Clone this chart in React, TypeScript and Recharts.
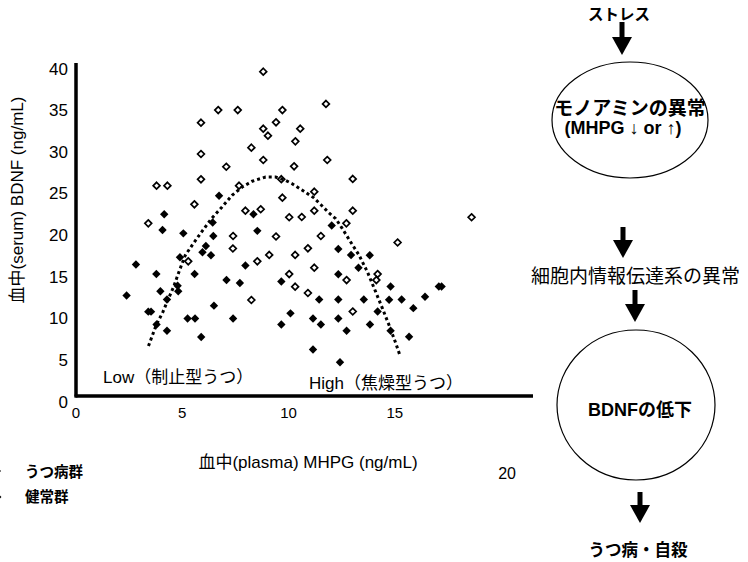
import { ScatterChart, Scatter, XAxis, YAxis } from 'recharts';

const FONT = '"Liberation Sans", Arial, "Noto Sans CJK JP", sans-serif';

const xTicks = [0, 5, 10, 15, 20];
const yTicks = [0, 5, 10, 15, 20, 25, 30, 35, 40];

// うつ病群 (filled)
const depressedX = [6.73, 4.15, 8.35, 4.07, 5.05, 6.43, 6.46, 8.53, 6.11, 5.95, 6.35, 4.89, 2.82, 7.97, 3.78, 5.58, 7.08, 7.71, 9.66, 4.78, 3.97, 4.81, 2.38, 4.28, 6.49, 3.4, 3.53, 5.25, 5.6, 7.39, 3.79, 9.66, 4.28, 5.89, 12.03, 12.34, 12.94, 13.82, 13.29, 12.34, 14.8, 17.07, 17.2, 16.42, 11.44, 12.34, 13.54, 14.73, 15.32, 15.87, 10.09, 14.19, 11.15, 11.52, 12.34, 13.83, 12.73, 14.8, 15.67, 11.15, 12.42];
const depressedY = [24.06, 21.83, 21.84, 19.94, 19.54, 20.84, 19.22, 19.84, 18.02, 17.27, 16.9, 16.66, 15.8, 15.68, 14.65, 14.65, 13.93, 13.57, 13.75, 13.25, 12.58, 12.58, 12.07, 11.59, 10.85, 10.13, 10.13, 9.31, 9.31, 9.31, 8.59, 8.59, 7.83, 7.09, 20.48, 17.66, 16.94, 16.91, 15.41, 14.62, 13.15, 13.15, 13.15, 11.92, 11.59, 11.59, 11.59, 11.56, 11.59, 10.55, 9.93, 10.15, 9.31, 8.59, 9.31, 8.59, 7.84, 7.84, 7.11, 5.59, 4.06];

// 健常群 (open)
const healthyX = [8.81, 6.69, 7.61, 9.71, 5.88, 9.41, 8.81, 9.03, 8.25, 5.88, 8.81, 7.07, 5.88, 9.66, 3.79, 4.3, 7.67, 9.71, 5.57, 7.97, 8.69, 11.76, 10.55, 10.32, 11.82, 10.26, 13.02, 11.21, 11.21, 13.02, 10.03, 10.62, 18.61, 3.4, 7.39, 9.41, 11.52, 12.72, 15.13, 10.91, 7.38, 5.28, 8.53, 9.09, 10.31, 11.21, 10.03, 14.19, 14.13, 12.73, 8.25, 10.31, 10.91, 13.02];
const healthyY = [38.96, 34.35, 34.35, 34.35, 32.83, 32.88, 32.11, 31.27, 29.83, 29.07, 28.35, 27.54, 26.03, 26.04, 25.26, 25.26, 25.26, 23.82, 23.03, 22.26, 22.43, 35.08, 32.11, 30.59, 28.35, 27.59, 26.07, 24.54, 22.26, 22.26, 21.47, 21.5, 21.47, 20.74, 19.22, 19.16, 19.22, 20.74, 18.44, 17.74, 17.72, 16.18, 16.18, 16.94, 16.94, 15.41, 14.65, 14.65, 13.93, 13.93, 11.53, 13.13, 12.37, 10.15];

// dotted fit curve
const curveX = [3.41, 3.77, 4.09, 4.35, 4.59, 4.87, 5.14, 5.46, 5.85, 6.37, 6.87, 7.34, 7.82, 8.29, 8.92, 9.39, 9.86, 10.17, 10.72, 11.19, 11.51, 11.9, 12.22, 12.53, 12.92, 13.32, 13.71, 14.1, 14.42, 14.73, 15.05, 15.25];
const curveY = [6.0, 8.5, 10.1, 11.7, 13.1, 15.1, 16.9, 18.1, 19.5, 21.3, 22.7, 24.1, 25.1, 25.8, 26.3, 26.3, 25.9, 25.5, 24.6, 23.8, 23.0, 22.0, 21.3, 20.1, 18.5, 16.9, 14.9, 12.5, 10.5, 8.5, 6.3, 4.8];

const zip = (xs: number[], ys: number[]) => xs.map((x, i) => ({ x, y: ys[i] }));
const depressed = zip(depressedX, depressedY);
const healthy = zip(healthyX, healthyY);
const curve = zip(curveX, curveY);

const diamond = (cx: number, cy: number, r: number) =>
  `${cx},${cy - r} ${cx + r},${cy} ${cx},${cy + r} ${cx - r},${cy}`;

const FilledDiamond = (props: any) => (
  <polygon points={diamond(props.cx, props.cy, 4.2)} fill="#000" />
);
const OpenDiamond = (props: any) => (
  <polygon points={diamond(props.cx, props.cy, 3.4)} fill="#fff" stroke="#000" strokeWidth={1.7} />
);

const YTick = ({ x, y, payload }: any) => (
  <text x={x} y={y + 6} textAnchor="end" dominantBaseline="central" fontSize={17} fontFamily={FONT} fill="#000" stroke="none">
    {payload.value}
  </text>
);

const XTick = ({ x, y, payload }: any) => {
  const far = payload.value === 20;
  return (
    <text
      x={x + (far ? 6 : 0)}
      y={y + (far ? 69 : 8)}
      textAnchor="middle"
      dominantBaseline="central"
      fontSize={far ? 16 : 15}
      fontFamily={FONT}
      fill="#000"
      stroke="none"
    >
      {payload.value}
    </text>
  );
};

const Arrow = ({ x, top, tip }: { x: number; top: number; tip: number }) => (
  <g>
    <rect x={x - 2.5} y={top} width={5} height={tip - top - 14} fill="#000" />
    <polygon points={`${x - 10},${tip - 18} ${x + 10},${tip - 18} ${x},${tip}`} fill="#000" />
  </g>
);

export default function App() {
  return (
    <div style={{ position: 'absolute', left: 0, top: 0, width: 748, height: 562, background: '#fff' }}>
      <ScatterChart width={748} height={562} margin={{ top: 63, right: 215, left: 0, bottom: 0 }}>
        <XAxis
          type="number"
          dataKey="x"
          domain={[0, 21.5]}
          ticks={xTicks}
          tick={XTick}
          tickLine={false}
          axisLine={{ stroke: '#000', strokeWidth: 3 }}
          height={166}
          allowDataOverflow
        />
        <YAxis
          type="number"
          dataKey="y"
          domain={[0, 40]}
          ticks={yTicks}
          tick={YTick}
          tickLine={false}
          axisLine={{ stroke: '#000', strokeWidth: 3 }}
          width={76}
          allowDataOverflow
        />
        <Scatter data={healthy} shape={OpenDiamond} isAnimationActive={false} />
        <Scatter data={depressed} shape={FilledDiamond} isAnimationActive={false} />
        <Scatter
          data={curve}
          shape={() => null}
          line={{ stroke: '#000', strokeWidth: 3, strokeDasharray: '3 3' }}
          lineType="joint"
          isAnimationActive={false}
        />
      </ScatterChart>

      <svg
        width={748}
        height={562}
        style={{ position: 'absolute', left: 0, top: 0, pointerEvents: 'none' }}
        fontFamily={FONT}
      >
        {/* heavy axis frame of the scanned figure */}
        <line x1={76} x2={76} y1={63} y2={397.5} stroke="#000" strokeWidth={3} />
        <line x1={74.5} x2={533} y1={396} y2={396} stroke="#000" strokeWidth={3} />

        <text x={17} y={200} transform="rotate(-90 17 200)" textAnchor="middle" dominantBaseline="central" fontSize={17}>
          血中(serum) BDNF (ng/mL)
        </text>
        <text x={308} y={462} textAnchor="middle" dominantBaseline="central" fontSize={17}>
          血中(plasma) MHPG (ng/mL)
        </text>
        <text x={103} y={377} dominantBaseline="central" fontSize={17}>
          Low（制止型うつ）
        </text>
        <text x={309} y={383} dominantBaseline="central" fontSize={17}>
          High（焦燥型うつ）
        </text>

        <polygon points={diamond(-3, 471, 4)} fill="#000" />
        <polygon points={diamond(-3, 497, 3.4)} fill="#fff" stroke="#000" strokeWidth={1.5} />
        <text x={25} y={472} dominantBaseline="central" fontSize={14.5} fontWeight="bold">
          うつ病群
        </text>
        <text x={25} y={497} dominantBaseline="central" fontSize={14.5} fontWeight="bold">
          健常群
        </text>

        <text x={619} y={14} textAnchor="middle" dominantBaseline="central" fontSize={15.5} fontWeight="bold">
          ストレス
        </text>
        <Arrow x={622} top={22} tip={55} />
        <ellipse cx={630} cy={120} rx={78} ry={58} fill="none" stroke="#000" strokeWidth={1.2} />
        <text x={630} y={108} textAnchor="middle" dominantBaseline="central" fontSize={19} fontWeight="bold">
          モノアミンの異常
        </text>
        <text x={623} y={128} textAnchor="middle" dominantBaseline="central" fontSize={18} fontWeight="bold">
          (MHPG ↓ or ↑)
        </text>
        <Arrow x={623} top={227} tip={258} />
        <text x={531} y={276} dominantBaseline="central" fontSize={19}>
          細胞内情報伝達系の異常
        </text>
        <Arrow x={635} top={290} tip={322} />
        <ellipse cx={636} cy={405} rx={79} ry={75} fill="none" stroke="#000" strokeWidth={1.2} />
        <text x={640} y={410} textAnchor="middle" dominantBaseline="central" fontSize={18} fontWeight="bold">
          BDNFの低下
        </text>
        <Arrow x={640} top={492} tip={523} />
        <text x={638} y={550} textAnchor="middle" dominantBaseline="central" fontSize={16.5} fontWeight="bold">
          うつ病・自殺
        </text>
      </svg>
    </div>
  );
}
